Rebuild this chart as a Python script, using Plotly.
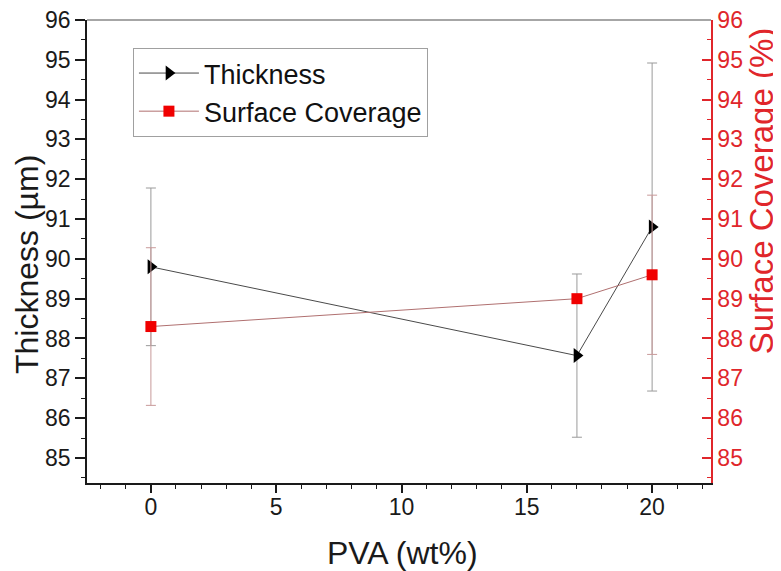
import plotly.graph_objects as go

pva = [0, 17, 20]
thickness = [89.8, 87.57, 90.8]
thickness_err = [1.98, 2.05, 4.12]
coverage = [88.3, 89.0, 89.6]
coverage_err = [1.98, 0.0, 2.0]

x_ticks = [0, 5, 10, 15, 20]
y_ticks = list(range(85, 97))

font = "Liberation Sans, Arial, sans-serif"
red = "#e0262b"
dark = "#1a1a1a"

fig = go.Figure()
fig.add_trace(go.Scatter(
    x=pva, y=thickness, name="Thickness", mode="lines+markers",
    line=dict(color="#4a4a4a", width=1),
    marker=dict(symbol="triangle-right", size=13, color="black"),
    error_y=dict(type="data", array=thickness_err, color="#9a9a9a", thickness=1, width=5),
    yaxis="y",
))
fig.add_trace(go.Scatter(
    x=pva, y=coverage, name="Surface Coverage", mode="lines+markers",
    line=dict(color="#b07070", width=1),
    marker=dict(symbol="square", size=11, color="#f00000"),
    error_y=dict(type="data", array=coverage_err, color="#c89a9a", thickness=1, width=5),
    yaxis="y2",
))

yr = [84.37, 96]
fig.update_layout(
    width=773, height=563,
    margin=dict(l=79, r=70, t=12, b=88),
    paper_bgcolor="white", plot_bgcolor="white",
    font=dict(family=font, size=23, color=dark),
    showlegend=True,
    legend=dict(x=0.0736, y=0.9395, xanchor="left", yanchor="top",
                bordercolor="#a0a0a0", borderwidth=1, bgcolor="white",
                font=dict(size=27, color="#111111"), tracegroupgap=0,
                itemwidth=60),
    xaxis=dict(
        range=[-2.55, 22.35], tickmode="array", tickvals=x_ticks,
        ticks="outside", ticklen=8, tickwidth=1.5, tickcolor=dark,
        showline=True, linecolor=dark, linewidth=1.5,
        showgrid=False, zeroline=False, automargin=False,
        ticklabelstandoff=-5,
        minor=dict(dtick=1, ticks="outside", ticklen=4, tickcolor=dark, tickwidth=1.2),
    ),
    yaxis=dict(
        range=yr, tickmode="array", tickvals=y_ticks,
        ticks="outside", ticklen=10, tickwidth=1.5, tickcolor=dark,
        showline=True, linecolor=dark, linewidth=1.5,
        showgrid=False, zeroline=False, automargin=False,
        ticklabeloverflow="allow",
        minor=dict(dtick=0.5, ticks="outside", ticklen=4, tickcolor=dark, tickwidth=1.2),
    ),
    yaxis2=dict(
        range=yr, tickmode="array", tickvals=y_ticks, overlaying="y", side="right",
        ticks="inside", ticklen=9, tickwidth=1.5, tickcolor=red,
        showline=True, linecolor=red, linewidth=1.5,
        showgrid=False, zeroline=False, automargin=False,
        ticklabeloverflow="allow",
        tickfont=dict(color=red),
        minor=dict(dtick=0.5, ticks="inside", ticklen=4, tickcolor=red, tickwidth=1.2),
    ),
    shapes=[dict(type="line", xref="paper", yref="paper", x0=0, x1=1, y0=1, y1=1,
                 line=dict(color="#888888", width=1.5))],
    annotations=[
        dict(text="PVA (wt%)", xref="paper", yref="paper", x=0.506, y=-0.151,
             xanchor="center", yanchor="middle", showarrow=False,
             font=dict(size=32, color=dark)),
        dict(text="Thickness (µm)", xref="paper", yref="paper", x=-0.096, y=0.471,
             xanchor="center", yanchor="middle", showarrow=False, textangle=-90,
             font=dict(size=32, color=dark)),
        dict(text="Surface Coverage (%)", xref="paper", yref="paper", x=1.08, y=0.63,
             xanchor="center", yanchor="middle", showarrow=False, textangle=-90,
             font=dict(size=33, color=red)),
    ],
)

fig.write_html("out.html")
